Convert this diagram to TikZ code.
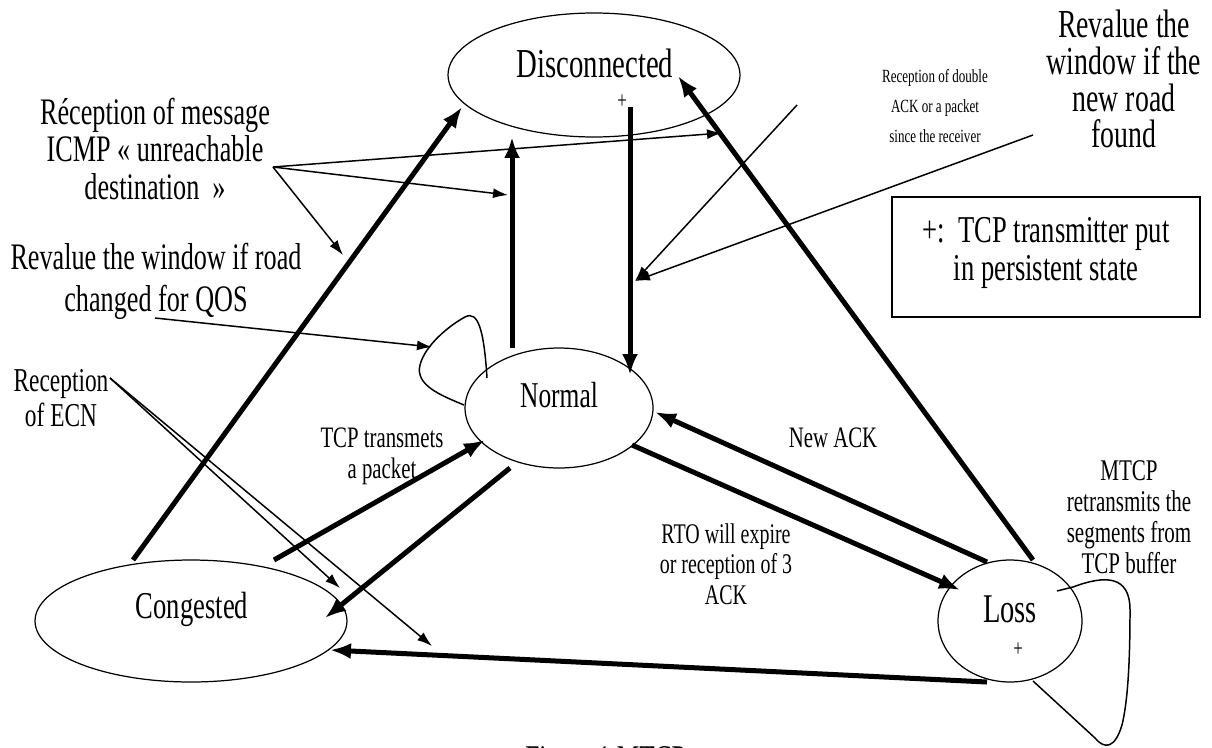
\documentclass[tikz,border=0pt]{standalone}
\usepackage{fontspec}
\setmainfont[FakeStretch=0.7]{Liberation Serif}
\usetikzlibrary{arrows.meta,shapes.geometric}
\begin{document}
\begin{tikzpicture}[x=0.02cm,y=-0.02cm,
  state/.style={draw,ellipse,line width=0.7pt,inner sep=0pt},
  tk/.style={line width=2.85pt,-{Latex[length=0.42cm,width=0.32cm]}},
  tn/.style={line width=0.85pt,-{Latex[length=0.3cm,width=0.2cm]}},
  thin/.style={line width=0.85pt},
  lbl/.style={align=center,inner sep=0pt},
  fs/.style 2 args={font=\fontsize{#1}{#2}\selectfont},
]
\useasboundingbox (0,0) rectangle (1212,747);
% states
\node[state,minimum width=5.84cm,minimum height=2.48cm] (dis) at (594,75) {};
\node[state,minimum width=3.76cm,minimum height=2.40cm] (nor) at (559,408) {};
\node[state,minimum width=6.24cm,minimum height=2.44cm] (con) at (191,621) {};
\node[state,minimum width=2.88cm,minimum height=2.44cm] (los) at (1010,621) {};
\node[lbl,fs={23.4pt}{24pt},anchor=base] (disT) at (595,77) {Disconnected};
\node[lbl,fs={20.7pt}{22pt},anchor=base] (norT) at (559,407) {Normal};
\node[lbl,fs={21.6pt}{22pt},anchor=base] (conT) at (192,618) {Congested};
\node[lbl,fs={23.2pt}{24pt},anchor=base] (losT) at (1010,622) {Loss};
\node[lbl,fs={13.7pt}{14pt}] (disP) at (622,102) {+};
\node[lbl,fs={13.7pt}{14pt}] (losP) at (1018,650) {+};
% labels
\node[lbl,fs={21.3pt}{21.3pt}] (icmp) at (155,149) {Réception of message\\ICMP « unreachable\\destination \ »};
\node[lbl,fs={21.3pt}{23.9pt}] (qos) at (156,281) {Revalue the window if road\\changed for QOS};
\node[lbl,fs={19pt}{19.9pt}] (ecn) at (61,398) {Reception\\of ECN};
\node[lbl,fs={16.9pt}{17.6pt}] (tcpt) at (382,456) {TCP transmets\\a packet};
\node[lbl,fs={10.6pt}{17pt}] (dbl) at (935,106) {Reception of double\\ACK or a packet\\since the receiver};
\node[lbl,fs={22.6pt}{21pt}] (found) at (1124,79) {Revalue the\\window if the\\new road\\found};
\node[draw,line width=0.8pt,minimum width=6.16cm,minimum height=2.4cm,inner sep=0pt] (box) at (1046,257) {};
\node[lbl,fs={21.6pt}{21.6pt}] (boxT) at (1046,253) {+:\ \ TCP transmitter put\\in persistent state};
\node[lbl,fs={16.9pt}{17pt},anchor=base] (nack) at (833,447) {New ACK};
\node[lbl,fs={17.1pt}{17.6pt}] (mtcp) at (1129,517) {MTCP\\retransmits the\\segments from\\TCP buffer};
\node[lbl,fs={16.2pt}{17.3pt}] (rto) at (726,564) {RTO will expire\\or reception of 3\\ACK};
\node[lbl,fs={20.6pt}{20pt},anchor=base west] (cap) at (525,770) {Figure 1 MTCP};
% named connector ends
\coordinate (cdS) at (133,560); \coordinate (cdE) at (462,107);
\coordinate (ndS) at (512,348); \coordinate (ndE) at (512,137);
\coordinate (dnS) at (630,107); \coordinate (dnE) at (630,375);
\coordinate (ldS) at (1033,560); \coordinate (ldE) at (678,76);
\coordinate (cnS) at (274,560); \coordinate (cnE) at (485,440);
\coordinate (ncS) at (510,468); \coordinate (ncE) at (325,618);
\coordinate (lnS) at (987,562); \coordinate (lnE) at (655,412);
\coordinate (nlS) at (632,445); \coordinate (nlE) at (960,590);
\coordinate (lcS) at (987,682); \coordinate (lcE) at (330,650);
\coordinate (fan) at (273,167);
\coordinate (fanA) at (722,133); \coordinate (fanB) at (508,195); \coordinate (fanC) at (343,255);
\coordinate (qosS) at (155,318); \coordinate (qosE) at (432,347);
\coordinate (ecnS) at (110,378); \coordinate (ecnA) at (340,588); \coordinate (ecnB) at (432,646);
\coordinate (dblS) at (797,105); \coordinate (fndS) at (1033,135); \coordinate (tgt) at (635,281);
% thick transitions
\draw[tk] (cdS) -- (cdE);
\draw[tk] (ndS) -- (ndE);
\draw[tk] (dnS) -- (dnE);
\draw[tk] (ldS) -- (ldE);
\draw[tk] (cnS) -- (cnE);
\draw[tk] (ncS) -- (ncE);
\draw[tk] (lnS) -- (lnE);
\draw[tk] (nlS) -- (nlE);
\draw[tk] (lcS) -- (lcE);
% thin label pointers
\draw[tn] (fan) -- (fanA);
\draw[tn] (fan) -- (fanB);
\draw[tn] (fan) -- (fanC);
\draw[tn] (qosS) -- (qosE);
\draw[tn] (ecnS) -- (ecnA);
\draw[tn] (ecnS) -- (ecnB);
\draw[tn] (dblS) -- (tgt);
\draw[tn] (fndS) -- (tgt);
% self loops
\draw[thin] (487,378) .. controls (484,330) and (478,310) .. (465,317)
  .. controls (450,325) and (425,345) .. (420,365)
  .. controls (415,385) and (440,395) .. (464,405);
\draw[thin] (1057,591) -- (1073,587) .. controls (1105,575) and (1130,575) .. (1130,610)
  .. controls (1130,660) and (1128,700) .. (1122,725)
  .. controls (1115,748) and (1105,750) .. (1095,738) -- (1033,681);
\end{tikzpicture}
\end{document}
